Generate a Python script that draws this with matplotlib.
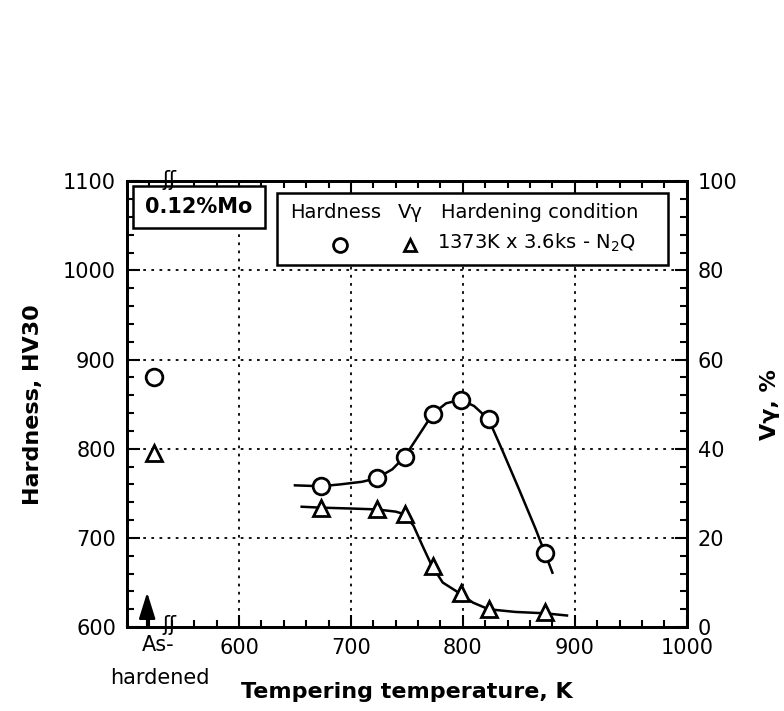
import matplotlib
matplotlib.use("Agg")
import matplotlib.pyplot as plt
from matplotlib.patches import Rectangle
from matplotlib.ticker import MultipleLocator

plt.rcParams['font.family'] = ['DejaVu Sans']

# measured points
temp = [673, 723, 748, 773, 798, 823, 873]
hardness = [758, 767, 791, 839, 855, 833, 683]
vgamma = [26.8, 26.4, 25.3, 13.8, 7.6, 4.0, 3.3]

# as-hardened values (plotted left of the break)
asq_x = 524
asq_hv = 881
asq_vg = 39.0

# hand-drawn guide curves
hv_curve_t = [650, 673, 690, 710, 723, 737, 748, 760, 773, 785, 798, 810, 823, 835, 850, 865, 873, 880]
hv_curve_v = [759, 758, 760, 763, 767, 777, 791, 814, 839, 851, 855, 848, 833, 799, 755, 710, 684, 661]
vg_curve_t = [656, 673, 700, 723, 740, 748, 756, 764, 772, 782, 797, 809, 823, 847, 873, 893]
vg_curve_v = [27.0, 26.8, 26.6, 26.4, 25.9, 25.3, 22.7, 18.2, 13.9, 10.0, 7.6, 5.5, 4.0, 3.4, 3.1, 2.6]

fig = plt.figure(figsize=(7.84, 7.11), dpi=100)
ax = fig.add_axes([0.162, 0.118, 0.714, 0.627])
ax2 = ax.twinx()

ax.set_xlim(500, 1000)
ax.set_ylim(600, 1100)
ax2.set_ylim(0, 100)

ax.plot(hv_curve_t, hv_curve_v, color='black', lw=1.8, zorder=3)
ax.plot(temp, hardness, 'o', ms=12, mfc='white', mec='black', mew=2, zorder=4)
ax.plot([asq_x], [asq_hv], 'o', ms=12, mfc='white', mec='black', mew=2, zorder=4)

ax2.plot(vg_curve_t, vg_curve_v, color='black', lw=1.8, zorder=3)
ax2.plot(temp, vgamma, '^', ms=11, mfc='white', mec='black', mew=2, zorder=4)
ax2.plot([asq_x], [asq_vg], '^', ms=11, mfc='white', mec='black', mew=2, zorder=4)

# ticks
ax.set_xticks([600, 700, 800, 900, 1000])
ax.xaxis.set_minor_locator(MultipleLocator(20))
ax.yaxis.set_major_locator(MultipleLocator(100))
ax.yaxis.set_minor_locator(MultipleLocator(20))
ax2.yaxis.set_major_locator(MultipleLocator(20))
ax2.yaxis.set_minor_locator(MultipleLocator(4))
ax.tick_params(which='both', direction='in', top=True, right=False, labelsize=15, width=1.5, pad=8)
ax.tick_params(which='major', length=9)
ax.tick_params(which='minor', length=5)
ax2.tick_params(which='both', direction='in', labelsize=15, width=1.5, pad=8)
ax2.tick_params(which='major', length=9)
ax2.tick_params(which='minor', length=5)
for a in (ax, ax2):
    for s in a.spines.values():
        s.set_linewidth(2)

ax.grid(True, which='major', linestyle=(0, (1.5, 3)), color='black', lw=1.3)

ax.set_xlabel('Tempering temperature, K', fontsize=16, fontweight='bold', labelpad=17)
ax.set_ylabel('Hardness, HV30', fontsize=16, fontweight='bold', labelpad=14)
ax2.set_ylabel('V\u03b3, %', fontsize=16, fontweight='bold', labelpad=16)

# as-hardened marker below axis
ax.annotate('', xy=(518, 639), xytext=(518, 600),
            arrowprops=dict(arrowstyle='-|>,head_length=0.8,head_width=0.25', color='black',
                            lw=1.8, mutation_scale=20, shrinkA=0, shrinkB=0),
            annotation_clip=False, zorder=5)
ax.annotate('As-', xy=(528, 0), xycoords=('data', 'axes fraction'), xytext=(0, -13),
            textcoords='offset points', ha='center', va='center', fontsize=15)
ax.annotate('hardened', xy=(529, 0), xycoords=('data', 'axes fraction'), xytext=(0, -37),
            textcoords='offset points', ha='center', va='center', fontsize=15)

# axis break marks
ax.text(538, 602, '\u0283\u0283', ha='center', va='center', fontsize=15, clip_on=False, zorder=6)
ax.text(538, 1101, '\u0283\u0283', ha='center', va='center', fontsize=15, clip_on=False, zorder=6)

# 0.12%Mo label box
ax.add_patch(Rectangle((0.011, 0.895), 0.235, 0.094, transform=ax.transAxes,
                       facecolor='white', edgecolor='black', lw=1.8, zorder=5))
ax.text(0.128, 0.942, '0.12%Mo', transform=ax.transAxes, ha='center', va='center',
        fontsize=15, fontweight='bold', zorder=6)

# legend box
ax.add_patch(Rectangle((0.268, 0.812), 0.698, 0.161, transform=ax.transAxes,
                       facecolor='white', edgecolor='black', lw=1.8, zorder=5))
ax.text(0.291, 0.930, 'Hardness', transform=ax.transAxes, va='center', fontsize=14, zorder=6)
ax.text(0.484, 0.930, 'V\u03b3', transform=ax.transAxes, va='center', fontsize=14, zorder=6)
ax.text(0.561, 0.930, 'Hardening condition', transform=ax.transAxes, va='center', fontsize=14, zorder=6)
ax.plot([0.380], [0.858], 'o', transform=ax.transAxes, ms=10, mfc='white', mec='black', mew=2, zorder=6, clip_on=False)
ax.plot([0.505], [0.858], '^', transform=ax.transAxes, ms=9, mfc='white', mec='black', mew=2, zorder=6, clip_on=False)
ax.text(0.554, 0.862, r'1373K x 3.6ks - N$_2$Q', transform=ax.transAxes, va='center', fontsize=14, zorder=6)

fig.savefig('out.png', dpi=100)
